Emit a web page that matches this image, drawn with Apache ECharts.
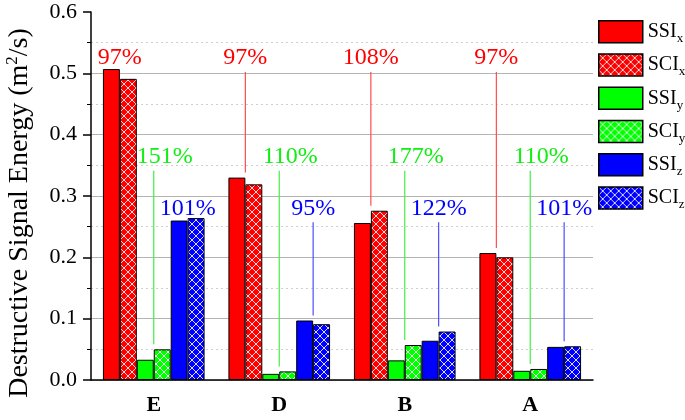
<!DOCTYPE html>
<html>
<head>
<meta charset="utf-8">
<script src="https://cdn.jsdelivr.net/npm/echarts@6/dist/echarts.min.js"></script>
<style>
    html, body { margin: 0; padding: 0; background: #fff; }
    #chart { width: 685px; height: 420px; }
</style>
</head>
<body>
<div id="chart"></div>
<script>
    // tool groups along the x axis
    const categories = ['E', 'D', 'B', 'A']
    // SSI / SCI per direction
    const ssiX = [0.507, 0.330, 0.256, 0.207]
    const sciX = [0.491, 0.319, 0.276, 0.200]
    const ssiY = [0.033, 0.010, 0.032, 0.015]
    const sciY = [0.050, 0.014, 0.057, 0.018]
    const ssiZ = [0.260, 0.097, 0.064, 0.054]
    const sciZ = [0.264, 0.091, 0.079, 0.055]
    // SCI / SSI ratios written above each pair
    const ratioX = ['97%', '97%', '108%', '97%']
    const ratioY = ['151%', '110%', '177%', '110%']
    const ratioZ = ['101%', '95%', '122%', '101%']

    const FONT = '"Liberation Serif", "Times New Roman", serif'
    const CAT_GAP = 0.19

    function hatch(color) {
        let c = document.createElement('canvas')
        c.width = 8
        c.height = 8
        let ctx = c.getContext('2d')
        ctx.fillStyle = color
        ctx.fillRect(0, 0, 8, 8)
        ctx.strokeStyle = 'rgba(255,255,255,0.85)'
        ctx.lineWidth = 1
        ctx.beginPath()
        ctx.moveTo(0, 0); ctx.lineTo(8, 8)
        ctx.moveTo(8, 0); ctx.lineTo(0, 8)
        ctx.stroke()
        return {image: c, repeat: 'repeat'}
    }

    function barSeries(name, data, color) {
        return {
            name: name,
            type: 'bar',
            data: data,
            barGap: 0,
            barCategoryGap: (CAT_GAP * 100) + '%',
            itemStyle: {color: color, borderColor: '#000', borderWidth: 1}
        }
    }

    // ratio label + leader line; pairShift is in bar widths from the category centre
    function ratioSeries(ssi, sci, ratio, pairShift, textShift, level, textColor, lineColor) {
        return {
            type: 'custom',
            silent: true,
            z: 5,
            data: categories.map((c, i) => [i, ssi[i], sci[i], ratio[i]]),
            renderItem(params, api) {
                let center = api.coord([api.value(0), 0])
                let band = api.size([1, 0])[0]
                let barW = band * (1 - CAT_GAP) / 6
                let x = center[0] + pairShift * barW
                let labelY = api.coord([api.value(0), level])[1]
                let top = Math.max(api.value(1), api.value(2))
                let lineTop = labelY + 14
                let lineBottom = api.coord([api.value(0), top])[1] - 5
                let children = [{
                    type: 'text',
                    style: {
                        x: x + textShift, y: labelY,
                        text: api.value(3),
                        fill: textColor,
                        fontFamily: FONT,
                        fontSize: 24,
                        align: 'center', verticalAlign: 'middle'
                    }
                }]
                if (lineBottom - lineTop > 10) {
                    children.push({
                        type: 'line',
                        shape: {x1: x, y1: lineTop, x2: x, y2: lineBottom},
                        style: {stroke: lineColor, lineWidth: 1.2}
                    })
                }
                return {type: 'group', children: children}
            }
        }
    }

    const subRich = {
        b: {fontFamily: FONT, fontSize: 20, color: '#000'},
        s: {fontFamily: FONT, fontSize: 13, color: '#000', padding: [14, 0, 0, 0]}
    }

    let myChart = echarts.init(document.getElementById('chart'))
    myChart.setOption({
        animation: false,
        grid: {left: 91, right: 92, top: 12, bottom: 40, containLabel: false, outerBoundsMode: 'none'},
        legend: {
            orient: 'vertical',
            left: 593,
            top: 15,
            itemWidth: 44,
            itemHeight: 22,
            itemGap: 8,
            icon: 'rect',
            itemStyle: {borderColor: '#000', borderWidth: 1.5},
            formatter: name => '{b|' + name.slice(0, 3) + '}{s|' + name.slice(3) + '}',
            textStyle: {rich: subRich, lineHeight: 22},
            data: ['SSIx', 'SCIx', 'SSIy', 'SCIy', 'SSIz', 'SCIz']
        },
        xAxis: [
            {
                type: 'category',
                data: categories,
                axisLine: {lineStyle: {color: '#000', width: 1.5}},
                axisTick: {length: 4, lineStyle: {color: '#000', width: 1.5}},
                axisLabel: {
                    margin: 14,
                    color: '#000',
                    fontFamily: FONT,
                    fontSize: 22,
                    fontWeight: 'bold'
                }
            },
            {
                type: 'category',
                data: categories,
                position: 'bottom',
                axisLine: {show: false},
                axisTick: {alignWithLabel: true, length: 7, lineStyle: {color: '#000', width: 1.5}},
                axisLabel: {show: false}
            }
        ],
        yAxis: {
            type: 'value',
            min: 0,
            max: 0.6,
            interval: 0.1,
            name: '{a|Destructive Signal Energy (m}{s|2}{a|/s)}',
            nameLocation: 'middle',
            nameGap: 56,
            nameTextStyle: {
                padding: [0, 34, 0, 0],
                rich: {
                    a: {fontFamily: FONT, fontSize: 28, color: '#000'},
                    s: {fontFamily: FONT, fontSize: 17, color: '#000', padding: [0, 0, 14, 0]}
                }
            },
            axisLine: {show: true, lineStyle: {color: '#000', width: 1.5}},
            axisTick: {show: true, length: 8, lineStyle: {color: '#000', width: 1.5}},
            minorTick: {show: true, splitNumber: 2, length: 4, lineStyle: {color: '#000', width: 1}},
            axisLabel: {
                margin: 14,
                color: '#000',
                fontFamily: FONT,
                fontSize: 22,
                formatter: v => v.toFixed(1)
            },
            splitLine: {
                lineStyle: {
                    color: ['#b4b4b4', '#b4b4b4', '#b4b4b4', '#b4b4b4', '#b4b4b4', '#b4b4b4', 'transparent'],
                    width: 1
                }
            },
            minorSplitLine: {show: true, lineStyle: {color: '#cfcfcf', type: [2, 3], width: 1}}
        },
        series: [
            barSeries('SSIx', ssiX, '#ff0000'),
            barSeries('SCIx', sciX, hatch('#ff0000')),
            barSeries('SSIy', ssiY, '#00ff00'),
            barSeries('SCIy', sciY, hatch('#00ff00')),
            barSeries('SSIz', ssiZ, '#0000ff'),
            barSeries('SCIz', sciZ, hatch('#0000ff')),
            ratioSeries(ssiX, sciX, ratioX, -2, 0, 0.525, '#ff0000', '#ff4d4d'),
            ratioSeries(ssiY, sciY, ratioY, 0, 11, 0.364, '#11ee11', '#44ee44'),
            ratioSeries(ssiZ, sciZ, ratioZ, 2, 0, 0.280, '#0000ff', '#4d4dff')
        ]
    })
</script>
</body>
</html>
